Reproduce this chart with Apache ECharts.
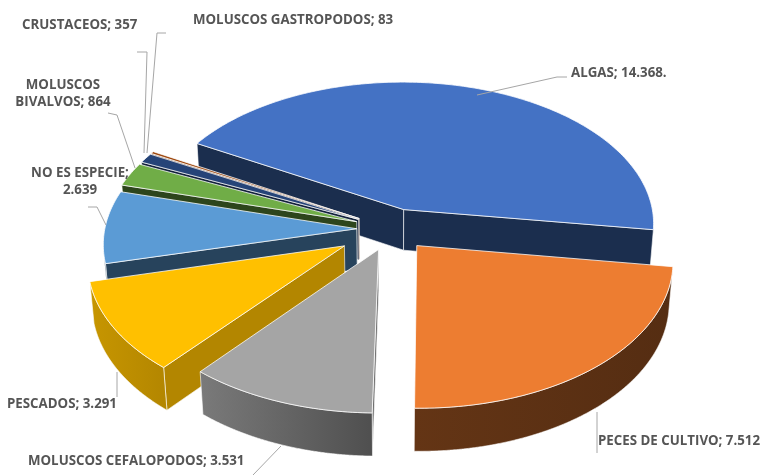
<!DOCTYPE html>
<html><head><meta charset="utf-8">
<script src="https://cdn.jsdelivr.net/npm/echarts@6/dist/echarts.min.js"></script>
<style>html,body{margin:0;padding:0;background:#fff}#c{width:763px;height:475px}</style>
</head><body><div id="c"></div>
<script>
// ---- data ----
const categories = ['ALGAS','PECES DE CULTIVO','MOLUSCOS CEFALOPODOS','PESCADOS','NO ES ESPECIE','MOLUSCOS BIVALVOS','CRUSTACEOS','MOLUSCOS GASTROPODOS'];
const values = [14368, 7512, 3531, 3291, 2639, 864, 357, 83];
const valueSuffix = ['.', '', '', '', '', '', '', ''];

// ---- style ----
const topColors = ['#4472C4','#ED7D31','#A5A5A5','#FFC000','#5B9BD5','#70AD47','#264478','#9E480E'];
const explode = [0.145, 0.15, 0.15, 0.22, 0.14, 0.15, 0.15, 0.15];
const rimShade = [[0.4,0.4],[0.42,0.36],[0.74,0.48],[0.78,0.7],[0.43,0.43],[0.4,0.4],[0.45,0.45],[0.45,0.45]];
const radialShade = [0.4, 0.4, 0.62, 0.7, 0.43, 0.4, 0.5, 0.5];
const labelLayout = [
  {x:571, y:73, align:'left', leader:[[477,95],[557,77],[567,77]]},
  {x:598, y:441, align:'left', leader:[[597,412],[597,453]]},
  {x:28, y:461, align:'left', leader:[[281,446],[253,475]]},
  {x:7, y:404, align:'left', leader:[[117,372],[117,397]]},
  {x:80, y:182, align:'center', wrap:'last', leader:[[106,225],[97,207],[88,207]]},
  {x:63, y:94, align:'center', wrap:'first', leader:[[135,168],[117,115],[108,113]]},
  {x:22, y:25, align:'left', leader:[[144,153],[147,52],[137,52]]},
  {x:193, y:20, align:'left', leader:[[147,153],[157,33],[166,33]]}
];

// ---- 3D projection ----
const DEG = Math.PI/180;
const CX = 392, CY = 229;
const PHI = 34.7*DEG, DIST = 8.47, FOC = 2134, THICK = 0.2;
const sP = Math.sin(PHI), cP = Math.cos(PHI);
const camPos = [0, DIST*sP, -DIST*cP];
function project(X, Y, Z) {
  const vx = X, vy = Y - camPos[1], vz = Z - camPos[2];
  const depth = -vy*sP + vz*cP;
  const ys = vy*cP + vz*sP;
  return [CX + FOC*vx/depth, CY - FOC*ys/depth, depth];
}
function facing(p, n) {
  return (camPos[0]-p[0])*n[0] + (camPos[1]-p[1])*n[1] + (camPos[2]-p[2])*n[2] > 0;
}
function shade(hex, f) {
  const n = parseInt(hex.slice(1), 16);
  const r = Math.round(((n>>16)&255)*f), g = Math.round(((n>>8)&255)*f), b = Math.round((n&255)*f);
  return 'rgb(' + r + ',' + g + ',' + b + ')';
}
function fmt(v) { return String(v).replace(/\B(?=(\d{3})+(?!\d))/g, '.'); }

const total = values.reduce((a, b) => a + b, 0);
// start so that the second slice ends pointing (almost) straight to the viewer
const SECOND_END = 269;
const START = SECOND_END + 360*(values[0] + values[1])/total;

const slices = [];
(function build() {
  let ang = START;
  values.forEach((v, i) => {
    const span = v/total*360;
    const a0 = ang, a1 = ang - span; ang = a1;
    const m = (a0 + a1)/2*DEG;
    const e = explode[i];
    const ox = e*Math.cos(m), oz = e*Math.sin(m);
    const rim = (th, y) => project(ox + Math.cos(th), y, oz + Math.sin(th));
    const apexT = project(ox, 0, oz), apexB = project(ox, -THICK, oz);
    const faces = [];
    [[a0, a0 + 90], [a1, a1 - 90]].forEach(([a, na]) => {
      const n = [Math.cos(na*DEG), 0, Math.sin(na*DEG)];
      if (facing([ox, -THICK/2, oz], n)) {
        faces.push({pts: [apexT, rim(a*DEG, 0), rim(a*DEG, -THICK), apexB], fill: shade(topColors[i], radialShade[i])});
      }
    });
    const step = 0.25;
    const nS = Math.max(2, Math.ceil((a0 - a1)/step));
    const topArc = [], botArc = [];
    for (let k = 0; k <= nS; k++) {
      const th = (a0 - (a0 - a1)*k/nS)*DEG;
      const p = [ox + Math.cos(th), -THICK/2, oz + Math.sin(th)];
      if (facing(p, [Math.cos(th), 0, Math.sin(th)])) {
        topArc.push(rim(th, 0)); botArc.push(rim(th, -THICK));
      }
    }
    if (topArc.length > 1) {
      faces.push({pts: topArc.concat(botArc.reverse()),
        fill: {type: 'linear', x: 0, y: 0, x2: 1, y2: 0, colorStops: [
          {offset: 0, color: shade(topColors[i], rimShade[i][0])},
          {offset: 1, color: shade(topColors[i], rimShade[i][1])}]}});
    }
    const topPts = [apexT];
    const nT = Math.max(2, Math.ceil((a0 - a1)/1));
    for (let k = 0; k <= nT; k++) topPts.push(rim((a0 - (a0 - a1)*k/nT)*DEG, 0));
    const cen = project(ox + 0.6*Math.cos(m), 0, oz + 0.6*Math.sin(m));
    slices.push({faces, topPts, depth: cen[2]});
  });
  const order = slices.map((s, i) => i).sort((a, b) => slices[b].depth - slices[a].depth);
  order.forEach((idx, rank) => { slices[idx].rank = rank; });
})();

function renderItem(params, api) {
  const i = params.dataIndex;
  const s = slices[i];
  const base = s.rank*10 + 10;
  const children = [];
  s.faces.forEach(f => {
    children.push({type: 'polygon', shape: {points: f.pts.map(p => [p[0], p[1]])}, z2: base + 1,
      style: {fill: f.fill, stroke: 'rgba(255,255,255,0.75)', lineWidth: 0.8, lineJoin: 'round'}});
  });
  children.push({type: 'polygon', shape: {points: s.topPts.map(p => [p[0], p[1]])}, z2: base + 5,
    style: {fill: topColors[i], stroke: 'rgba(255,255,255,0.85)', lineWidth: 0.9, lineJoin: 'round'}});
  const L = labelLayout[i];
  let txt = categories[i] + '; ' + fmt(api.value(0)) + valueSuffix[i];
  if (L.wrap === 'last') { const k = txt.lastIndexOf(' '); txt = txt.slice(0, k) + '\n' + txt.slice(k + 1); }
  if (L.wrap === 'first') { const k = txt.indexOf(' '); txt = txt.slice(0, k) + '\n' + txt.slice(k + 1); }
  children.push({type: 'polyline', shape: {points: L.leader}, z2: 500,
    style: {stroke: '#a6a6a6', lineWidth: 1, fill: null}});
  children.push({type: 'text', z2: 501, style: {text: txt, x: L.x, y: L.y, fill: '#555555',
    font: 'bold 13.3px "Open Sans", "Liberation Sans", Arial, sans-serif', align: L.align, verticalAlign: 'middle',
    textAlign: L.align, textVerticalAlign: 'middle', lineHeight: 17}});
  return {type: 'group', children};
}

const chart = echarts.init(document.getElementById('c'), null, {renderer: 'canvas'});
chart.setOption({
  animation: false,
  backgroundColor: '#ffffff',
  series: [{
    type: 'custom',
    coordinateSystem: 'none',
    renderItem: renderItem,
    data: values.map((v, i) => ({name: categories[i], value: [v]}))
  }]
});
</script></body></html>
